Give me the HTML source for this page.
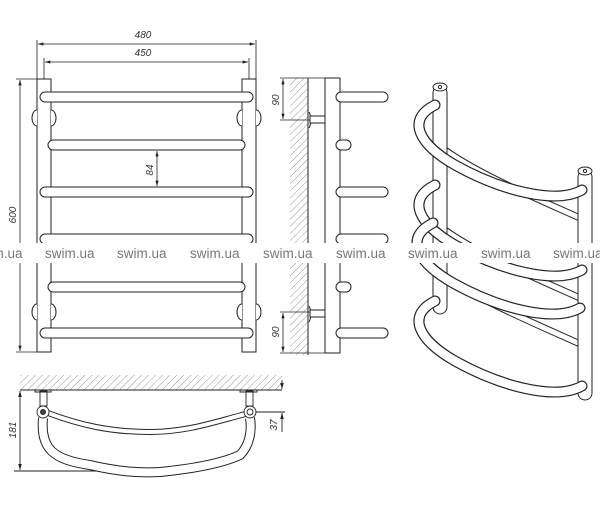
<!DOCTYPE html>
<html><head><meta charset="utf-8"><style>
html,body{margin:0;padding:0;background:#fff;width:600px;height:505px;overflow:hidden}
svg{display:block}
text{font-family:"Liberation Sans",sans-serif}
</style></head><body>
<svg width="600" height="505" viewBox="0 0 600 505" xmlns="http://www.w3.org/2000/svg">
<defs>
<pattern id="h" width="5" height="5" patternUnits="userSpaceOnUse" patternTransform="rotate(45)">
<rect width="5" height="5" fill="#fff"/><line x1="0" y1="0" x2="0" y2="5" stroke="#888" stroke-width="0.9"/>
</pattern>
<marker id="a" viewBox="0 0 10 6" refX="10" refY="3" markerWidth="8" markerHeight="4" orient="auto-start-reverse"><path d="M0,0L10,3L0,6z" fill="#222"/></marker>
</defs>
<g stroke="#222" fill="none" stroke-width="0.8">
<line x1="37" y1="40" x2="37" y2="79"/><line x1="256" y1="40" x2="256" y2="79"/>
<line x1="44" y1="58" x2="44" y2="79"/><line x1="249" y1="58" x2="249" y2="79"/>
<line x1="38" y1="44" x2="255" y2="44" marker-start="url(#a)" marker-end="url(#a)"/>
<line x1="45" y1="62" x2="248" y2="62" marker-start="url(#a)" marker-end="url(#a)"/>
<line x1="16" y1="79" x2="37" y2="79"/><line x1="16" y1="352" x2="37" y2="352"/>
<line x1="20" y1="80" x2="20" y2="351" marker-start="url(#a)" marker-end="url(#a)"/>
<line x1="157" y1="151" x2="157" y2="186" marker-start="url(#a)" marker-end="url(#a)"/>
</g>
<g font-size="10" font-style="italic" fill="#333">
<text x="143" y="38" text-anchor="middle">480</text>
<text x="143" y="56" text-anchor="middle">450</text>
<text transform="translate(16,215) rotate(-90)" text-anchor="middle">600</text>
<text transform="translate(153,170) rotate(-90)" text-anchor="middle">84</text>
<text transform="translate(279,100) rotate(-90)" text-anchor="middle">90</text>
<text transform="translate(279,332) rotate(-90)" text-anchor="middle">90</text>
<text transform="translate(16,430) rotate(-90)" text-anchor="middle">181</text>
<text transform="translate(277,425) rotate(-90)" text-anchor="middle">37</text>
</g>
<g stroke="#222" fill="#fff" stroke-width="1">
<rect x="37" y="79" width="14" height="273"/><rect x="242" y="79" width="14" height="273"/>
<path d="M37,110 a5,8 0 0,0 0,16 M51,110 a5,8 0 0,1 0,16 M242,110 a5,8 0 0,0 0,16 M256,110 a5,8 0 0,1 0,16"/>
<path d="M37,304 a5,8 0 0,0 0,16 M51,304 a5,8 0 0,1 0,16 M242,304 a5,8 0 0,0 0,16 M256,304 a5,8 0 0,1 0,16"/>
<rect x="40" y="92" width="213" height="10" rx="5"/>
<rect x="48" y="140" width="197" height="10" rx="5"/>
<rect x="40" y="187" width="213" height="10" rx="5"/>
<rect x="40" y="234" width="213" height="10" rx="5"/>
<rect x="48" y="282" width="197" height="10" rx="5"/>
<rect x="40" y="328" width="213" height="10" rx="5"/>
<rect x="290" y="78" width="18" height="277" fill="url(#h)" stroke="none"/>
<line x1="308" y1="78" x2="308" y2="355"/>
<rect x="325" y="78" width="15" height="275"/>
<rect x="336" y="92" width="52" height="10" rx="5"/>
<rect x="336" y="140" width="15" height="10" rx="5"/>
<rect x="336" y="187" width="52" height="10" rx="5"/>
<rect x="336" y="234" width="52" height="10" rx="5"/>
<rect x="336" y="282" width="15" height="10" rx="5"/>
<rect x="336" y="328" width="52" height="10" rx="5"/>
<path d="M309,112 q4,8 0,16 M309,306 q4,8 0,16" />
<rect x="310" y="116" width="15" height="7"/><rect x="310" y="310" width="15" height="7"/>
</g>
<g stroke="#222" stroke-width="0.8" fill="none">
<line x1="280" y1="78" x2="325" y2="78"/><line x1="280" y1="120" x2="310" y2="120"/>
<line x1="283" y1="79" x2="283" y2="119" marker-start="url(#a)" marker-end="url(#a)"/>
<line x1="280" y1="312" x2="310" y2="312"/><line x1="280" y1="353" x2="325" y2="353"/>
<line x1="283" y1="313" x2="283" y2="352" marker-start="url(#a)" marker-end="url(#a)"/>
</g>
<g fill="none" stroke-linecap="round">
<g id="back">
<path d="M445,150 C480,175 540,200 580,218" stroke="#222" stroke-width="7"/>
<path d="M445,150 C480,175 540,200 580,218" stroke="#fff" stroke-width="5"/>
</g>
<use href="#back" transform="translate(0,80)"/>
<use href="#back" transform="translate(-2,125)"/>
<rect x="433" y="86" width="14" height="228" rx="7" fill="#fff" stroke="#222"/>
<ellipse cx="440" cy="87" rx="7" ry="4" fill="#fff" stroke="#222"/><circle cx="440" cy="87" r="1.6" fill="none" stroke="#222"/>
<rect x="578" y="170" width="14" height="230" rx="7" fill="#fff" stroke="#222"/>
<ellipse cx="585" cy="171" rx="7" ry="4" fill="#fff" stroke="#222"/><circle cx="585" cy="171" r="1.6" fill="none" stroke="#222"/>
<g id="bar">
<path d="M435,105 C405,120 420,145 455,165 C500,190 555,205 582,190" stroke="#222" stroke-width="11"/>
<path d="M435,105 C405,120 420,145 455,165 C500,190 555,205 582,190" stroke="#fff" stroke-width="8.6"/>
</g>
<use href="#bar" transform="translate(0,80)"/>
<use href="#bar" transform="translate(-2,118)"/>
<use href="#bar" transform="translate(0,196)"/>
</g>
<rect x="20" y="375" width="262" height="15" fill="url(#h)"/>
<g stroke="#222" fill="none" stroke-width="0.9">
<line x1="20" y1="390" x2="282" y2="390"/>
<line x1="14" y1="471" x2="120" y2="471"/>
<line x1="20" y1="391" x2="20" y2="470" marker-start="url(#a)" marker-end="url(#a)"/>
<line x1="256" y1="412" x2="285" y2="412"/>
<line x1="282" y1="380" x2="282" y2="389" marker-end="url(#a)"/>
<line x1="282" y1="432" x2="282" y2="413" marker-end="url(#a)"/>
<path d="M48,413 C80,425 110,432 150,432 C190,432 220,420 250,413" stroke-width="6"/>
<path d="M48,413 C80,425 110,432 150,432 C190,432 220,420 250,413" stroke="#fff" stroke-width="4"/>
<path d="M43,418 C40,450 55,460 90,465 C120,472 140,473 160,472 C200,468 225,462 240,455 C250,445 252,430 250,418" stroke-width="10"/>
<path d="M43,418 C40,450 55,460 90,465 C120,472 140,473 160,472 C200,468 225,462 240,455 C250,445 252,430 250,418" stroke="#fff" stroke-width="8"/>
<rect x="40" y="391" width="7" height="15" fill="#fff"/><rect x="246" y="391" width="7" height="15" fill="#fff"/>
<path d="M35,390 h16 v2 h-16z M240,390 h17 v2 h-17z"/>
<circle cx="43" cy="412" r="6" fill="#fff"/><circle cx="43" cy="412" r="2.5" fill="#444"/>
<circle cx="250" cy="412" r="6" fill="#fff"/><circle cx="250" cy="412" r="3" fill="#fff"/>
</g>
<rect x="0" y="243" width="600" height="20" fill="#fff"/>
<g font-size="13.5" fill="#777">
<text x="-27" y="258">swim.ua</text><text x="45" y="258">swim.ua</text><text x="117" y="258">swim.ua</text>
<text x="190" y="258">swim.ua</text><text x="263" y="258">swim.ua</text><text x="336" y="258">swim.ua</text>
<text x="408" y="258">swim.ua</text><text x="481" y="258">swim.ua</text><text x="553" y="258">swim.ua</text>
</g>
</svg>
</body></html>
